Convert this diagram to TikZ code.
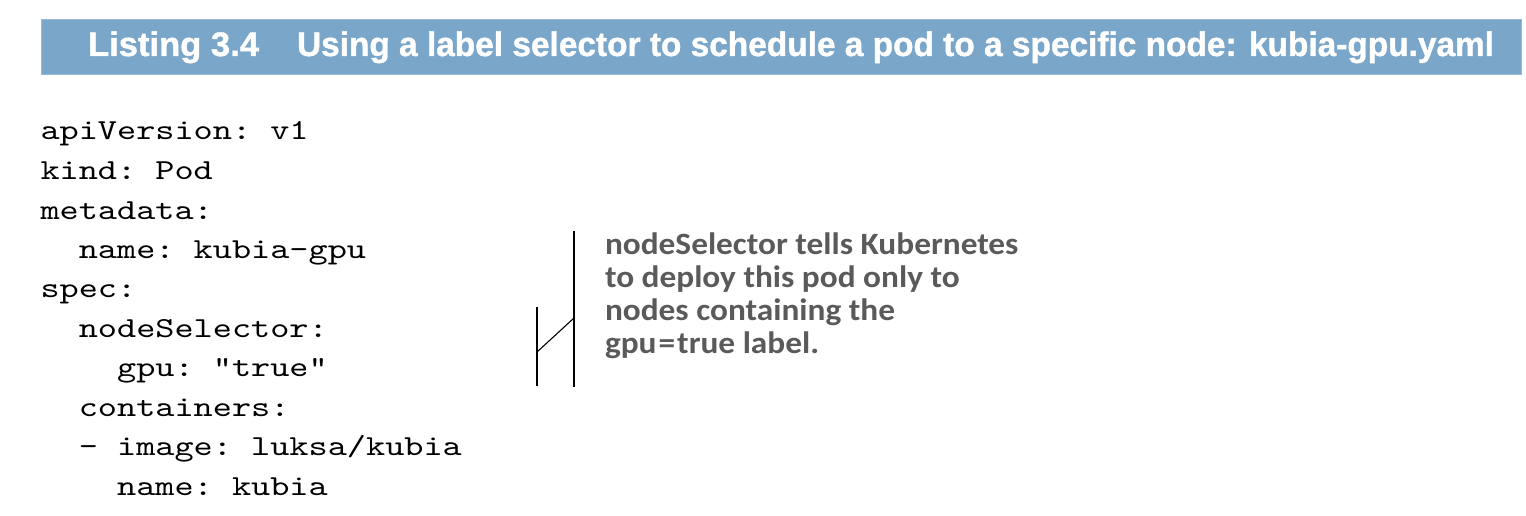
\documentclass[tikz,border=0pt]{standalone}
\usepackage{fontspec}
\usepackage{graphicx}
\newfontfamily\headfont{Liberation Sans}[BoldFeatures={FakeBold=1.2}]
\newfontfamily\notefont{Carlito}[BoldFeatures={FakeStretch=1.075}]
\newfontfamily\codefont{lmmono10-regular}[Extension=.otf,FakeStretch=1.258]
\definecolor{hdrblue}{RGB}{122,166,202}
\definecolor{hdredge}{RGB}{150,186,216}
\definecolor{notegray}{RGB}{90,90,90}
\tikzset{
  hdrbox/.style={fill=hdrblue,draw=hdredge,line width=1pt},
  hdrtext/.style={anchor=base west,inner sep=0pt,outer sep=0pt,text=white,
    font=\headfont\bfseries\fontsize{34}{40}\selectfont},
  codeline/.style={anchor=base west,inner sep=0pt,outer sep=0pt,text=black,
    font=\codefont\fontsize{29}{35}\selectfont\frenchspacing},
  noteline/.style={anchor=base west,inner sep=0pt,outer sep=0pt,text=notegray,
    font=\notefont\bfseries\fontsize{31}{33}\selectfont},
  bracketline/.style={draw=black,line width=1.1pt}
}
\begin{document}
\begin{tikzpicture}[x=1pt,y=-1pt]
\useasboundingbox (0,0) rectangle (1526,516);
% header bar
\node[hdrbox,minimum width=1480pt,minimum height=55pt,inner sep=0pt,anchor=north west] (bar) at (41,19) {};
\node[hdrtext] (hl) at (88,56) {\resizebox{171pt}{\height}{Listing 3.4}};
\node[hdrtext] (ht) at (297,56) {\resizebox{1197pt}{\height}{Using a label selector to schedule a pod to a specific node: kubia-gpu.yaml}};
% code
\node[codeline] (c0) at (40.5,140) {apiVersion: v1};
\node[codeline] (c1) at (40.5,179.5) {kind: Pod};
\node[codeline] (c2) at (40.5,219) {metadata:};
\node[codeline] (c3) at (78.8,258.4) {name: kubia-gpu};
\node[codeline] (c4) at (40.5,297.8) {spec:};
\node[codeline] (c5) at (78.8,337.3) {nodeSelector:};
\node[codeline] (c6) at (117.1,376.7) {gpu: "true"};
\node[codeline] (c7) at (78.8,416.2) {containers:};
\node[codeline] (c8) at (78.8,455.6) {- image: luksa/kubia};
\node[codeline] (c9) at (117.1,495) {name: kubia};
% annotation
\node[noteline] (n1) at (605,254.5) {nodeSelector tells Kubernetes};
\node[noteline] (n2) at (605,287.5) {to deploy this pod only to};
\node[noteline] (n3) at (605,320.5) {nodes containing the};
\node[noteline] (n4) at (605,353.5) {gpu\kern2pt=\kern2pt true label.};
% bracket
\coordinate (rt) at (574,231);
\coordinate (rb) at (574,387);
\coordinate (rm) at (574,318);
\coordinate (lt) at (537,307);
\coordinate (lb) at (537,386);
\coordinate (lm) at (537,352);
\draw[bracketline] (rt) -- (rb);
\draw[bracketline] (lt) -- (lb);
\draw[bracketline] (lm) -- (rm);
\end{tikzpicture}
\end{document}
